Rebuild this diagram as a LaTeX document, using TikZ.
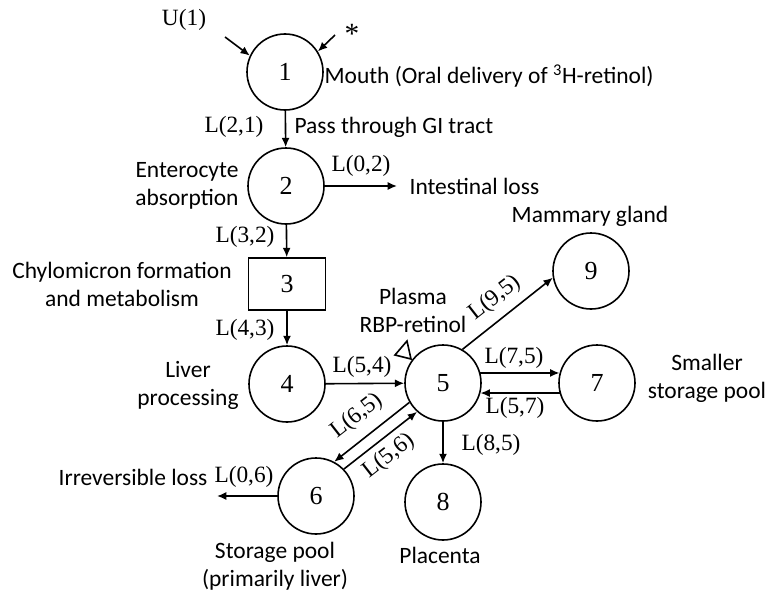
\documentclass[tikz,border=0pt]{standalone}
\usepackage{fontspec}
\setmainfont{Carlito}
\newfontfamily\tnr{Liberation Serif}
\usetikzlibrary{arrows.meta, calc}

\begin{document}
\begin{tikzpicture}[
    x=0.75pt, y=-0.75pt,
    >={Latex[length=7pt, width=6pt]},
    pool/.style={circle, draw, line width=1.2pt, minimum size=57pt, inner sep=0pt, font=\tnr\fontsize{19.5}{22}\selectfont},
    flow/.style={->, line width=1.2pt},
    rate/.style={font=\tnr\fontsize{17.5}{20}\selectfont, inner sep=1pt},
    desc/.style={font=\fontsize{17.6}{21}\selectfont, align=center, inner sep=1pt}
]
\useasboundingbox (0,0) rectangle (767,592);

% Compartments
\node[pool] (c1) at (285,72) {1};
\node[pool] (c2) at (286,186) {2};
\node[rectangle, draw, line width=1.2pt, minimum width=57.75pt, minimum height=39pt, font=\tnr\fontsize{19.5}{22}\selectfont] (c3) at (287,284) {3};
\node[pool] (c4) at (287,384) {4};
\node[pool] (c5) at (443,383) {5};
\node[pool] (c6) at (316,496) {6};
\node[pool] (c7) at (597,383) {7};
\node[pool] (c8) at (443,502) {8};
\node[pool] (c9) at (591,271) {9};

% Free ends
\coordinate (u1) at (225,37);
\coordinate (st) at (335,35);
\coordinate (gut) at (397,186);
\coordinate (irr) at (217,496);

% Inputs
\node[rate] (u1lab) at (184,20) {U(1)};
\node[font=\tnr\fontsize{22}{24}\selectfont, inner sep=0pt] (stlab) at (352,34) {*};
\draw[flow] (u1) -- (c1.155);
\draw[flow] (st) -- (c1.32);

% Descriptions
\node[desc, anchor=west] (mouth) at (323,76) {Mouth (Oral delivery of \textsuperscript{3}H-retinol)};
\node[desc, anchor=west] (gi) at (293,127) {Pass through GI tract};
\node[desc] (entero) at (187,186) {Enterocyte\\absorption};
\node[desc, anchor=west] (intloss) at (408,186) {Intestinal loss};
\node[desc] (chylo) at (122,284) {Chylomicron formation\\and metabolism};
\node[desc] (liver) at (188,385) {Liver\\processing};
\node[desc] (plasma) at (413,310) {Plasma\\RBP-retinol};
\node[desc] (mammary) at (590,216) {Mammary gland};
\node[desc] (smaller) at (707,378) {Smaller\\storage pool};
\node[desc, anchor=east] (irrloss) at (209,477) {Irreversible loss};
\node[desc] (storage) at (275,566) {Storage pool\\(primarily liver)};
\node[desc] (placenta) at (440,555) {Placenta};

% Sampling site
\draw[line width=1.2pt] (395,355) -- (407,341) -- (411,359) -- cycle;

% Transfers
\draw[flow] (c1) -- (c2);
\draw[flow] (c2) -- (c3);
\draw[flow] (c3) -- (c4);
\draw[flow] (c2.east) -- (gut);
\draw[flow] (c4) -- (c5);
\draw[flow] (c5.15) -- (c7.165);
\draw[flow] (c7.195) -- (c5.-15);
\draw[flow] (c5.60) -- (c9.190);
\draw[flow] (c5) -- (c8);
\draw[flow] (c5.210) -- (c6.62);
\draw[flow] (c6.44) -- (c5.228);
\draw[flow] (c6.west) -- (irr);

% Rate constants
\node[rate] (l21) at (234,127) {L(2,1)};
\node[rate] (l02) at (361,166) {L(0,2)};
\node[rate] (l32) at (245,237) {L(3,2)};
\node[rate] (l43) at (245,330) {L(4,3)};
\node[rate] (l54) at (362,367) {L(5,4)};
\node[rate] (l75) at (514,358) {L(7,5)};
\node[rate] (l57) at (515,408) {L(5,7)};
\node[rate] (l85) at (491,445) {L(8,5)};
\node[rate, rotate=38] (l95) at (495,298) {L(9,5)};
\node[rate, rotate=38] (l65) at (357,416) {L(6,5)};
\node[rate, rotate=38] (l56) at (389,456) {L(5,6)};
\node[rate] (l06) at (244,477) {L(0,6)};

\end{tikzpicture}
\end{document}
